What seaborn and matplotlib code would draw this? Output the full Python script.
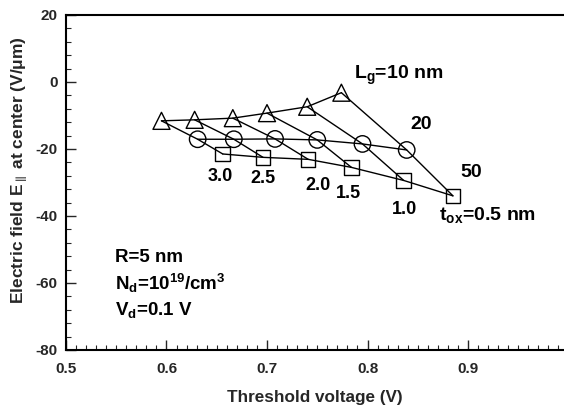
import numpy as np
import pandas as pd
import seaborn as sns
import matplotlib
matplotlib.use("Agg")
import matplotlib.pyplot as plt
from matplotlib.ticker import MultipleLocator

# Oxide thickness (nm) and gate length (nm) for each simulated device
tox = [3.0, 2.5, 2.0, 1.5, 1.0, 0.5]
gate_lengths = [10, 20, 50]

# Threshold voltage (V) per gate length, ordered by tox above
vth_10 = [0.595, 0.628, 0.666, 0.700, 0.740, 0.774]
vth_20 = [0.631, 0.667, 0.708, 0.750, 0.795, 0.839]
vth_50 = [0.656, 0.696, 0.741, 0.784, 0.836, 0.885]

# Electric field at the channel center (V/um)
ef_10 = [-11.6, -11.3, -10.8, -9.3, -7.4, -3.2]
ef_20 = [-17.1, -17.1, -17.0, -17.3, -18.5, -20.3]
ef_50 = [-21.5, -22.5, -23.1, -25.5, -29.4, -34.0]

tox_labels = ["3.0", "2.5", "2.0", "1.5", "1.0"]

rows = []
for lg, vs, es in zip(gate_lengths, [vth_10, vth_20, vth_50], [ef_10, ef_20, ef_50]):
    for t, v, e in zip(tox, vs, es):
        rows.append({"Lg": lg, "tox": t, "vth": v, "E": e})
df = pd.DataFrame(rows)

sns.set_theme(style="ticks")
plt.rcParams["font.family"] = ["Liberation Sans", "DejaVu Sans"]
plt.rcParams["font.weight"] = "bold"
plt.rcParams["axes.unicode_minus"] = False
plt.rcParams["mathtext.fontset"] = "custom"
plt.rcParams["mathtext.rm"] = "Liberation Sans:bold"
plt.rcParams["mathtext.it"] = "Liberation Sans:bold"
plt.rcParams["mathtext.bf"] = "Liberation Sans:bold"

fig = plt.figure(figsize=(5.64, 4.05), dpi=100)
ax = fig.add_axes([0.117, 0.136, 0.883, 0.827])

# Curves at constant gate length
sns.lineplot(data=df, x="vth", y="E", units="Lg", estimator=None, sort=False,
             color="black", lw=1.0, ax=ax, legend=False)
# Curves at constant oxide thickness
sns.lineplot(data=df, x="vth", y="E", units="tox", estimator=None, sort=False,
             color="black", lw=1.0, ax=ax, legend=False)

sizes = {10: 150, 20: 140, 50: 110}
for lg, mk in zip(gate_lengths, ["^", "o", "s"]):
    sub = df[df["Lg"] == lg]
    sns.scatterplot(data=sub, x="vth", y="E", marker=mk, s=sizes[lg],
                    facecolor="none", edgecolor="black", linewidth=1.0,
                    ax=ax, legend=False, zorder=3)

ax.set_xlim(0.5, 0.9955)
ax.set_ylim(-80, 20)
ax.xaxis.set_minor_locator(MultipleLocator(0.01))
ax.yaxis.set_major_locator(MultipleLocator(20))
ax.yaxis.set_minor_locator(MultipleLocator(4))
ax.set_xticks([0.5, 0.6, 0.7, 0.8, 0.9])
ax.set_xticklabels(["0.5", "0.6", "0.7", "0.8", "0.9"])
ax.tick_params(which="major", direction="in", length=7, width=1.0,
               labelsize=11, pad=6, top=False, right=False)
ax.tick_params(axis="x", which="major", pad=9)
ax.tick_params(which="minor", direction="in", length=3.5, width=0.8,
               top=False, right=False)
for lab in ax.get_xticklabels() + ax.get_yticklabels():
    lab.set_fontweight("bold")

ax.spines["right"].set_visible(False)
for s in ["left", "bottom", "top"]:
    ax.spines[s].set_linewidth(1.5)
    ax.spines[s].set_color("black")

ax.set_xlabel("Threshold voltage (V)", fontsize=12.3, fontweight="bold", labelpad=10)
ax.set_ylabel(r"Electric field E$_{\parallel}$ at center (V/$\mu$m)",
              fontsize=12.5, fontweight="bold")
ax.yaxis.set_label_coords(-0.072, 0.537)

tk = dict(fontsize=14, fontweight="bold", color="black")
ax.text(0.787, 2.1, r"L$_{\mathrm{g}}$=10 nm", ha="left", va="center", **tk)
ax.text(0.853, -12.8, "20", ha="center", va="center", **tk)
ax.text(0.903, -26.9, "50", ha="center", va="center", **tk)
ax.text(0.871, -39.7, r"t$_{\mathrm{ox}}$=0.5 nm", ha="left", va="center", **tk)

tl = dict(fontsize=13, fontweight="bold", color="black")
label_pos = [(0.653, -28.1), (0.696, -28.7), (0.751, -31.0), (0.781, -33.4), (0.837, -38.2)]
for txt, (x, y) in zip(tox_labels, label_pos):
    ax.text(x, y, txt, ha="center", va="center", **tl)

tp = dict(fontsize=13.5, fontweight="bold", color="black")
ax.text(0.549, -52.5, "R=5 nm", ha="left", va="center", **tp)
ax.text(0.549, -60.3, r"N$_{\mathrm{d}}$=10$^{19}$/cm$^{3}$", ha="left", va="center", **tp)
ax.text(0.549, -68.1, r"V$_{\mathrm{d}}$=0.1 V", ha="left", va="center", **tp)

fig.savefig("out.png", dpi=100)
